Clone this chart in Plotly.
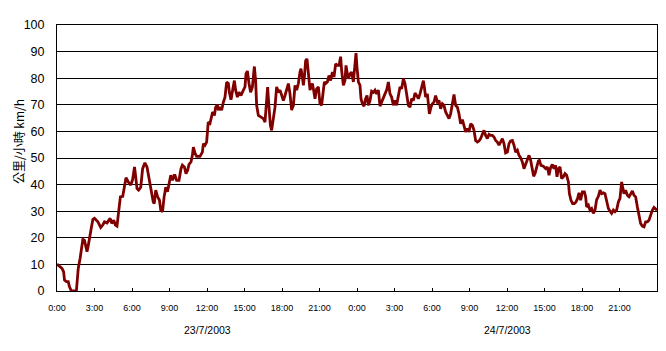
import plotly.graph_objects as go

# time in hours since 0:00 on 23/7/2003, speed in km/h
hours = [
    0.0, 0.2, 0.4, 0.53, 0.6, 0.75, 0.9, 1.0, 1.15, 1.55, 1.6, 1.7, 1.85, 1.95, 2.07, 2.2, 2.35, 2.4, 2.5, 2.65,
    2.75, 2.87, 3.0, 3.27, 3.5, 3.66, 3.8, 4.0, 4.25, 4.38, 4.54, 4.67, 4.8, 4.9, 5.0, 5.07, 5.26, 5.4, 5.52, 5.7,
    5.9, 6.05, 6.2, 6.27, 6.4, 6.53, 6.7, 6.85, 7.03, 7.2, 7.38, 7.57, 7.7, 7.78, 7.9, 8.05, 8.2, 8.3, 8.44, 8.57,
    8.7, 8.84, 9.0, 9.1, 9.24, 9.37,
    9.44, 9.57, 9.76, 9.92, 10.03, 10.19, 10.32, 10.45, 10.56, 10.72, 10.83, 10.91, 11.04, 11.17, 11.44, 11.63,
    11.71, 11.84, 11.97, 12.05, 12.1, 12.24, 12.37, 12.45, 12.59, 12.69, 12.83, 12.91, 13.04, 13.17, 13.31, 13.44,
    13.57, 13.71, 13.79, 13.92, 14.05, 14.19, 14.29, 14.43, 14.56, 14.72, 14.91, 15.04, 15.12, 15.23, 15.36, 15.49,
    15.63, 15.71, 15.79, 15.89, 15.97, 16.11, 16.32, 16.51, 16.64, 16.77, 16.85, 16.96, 17.07, 17.17, 17.31, 17.44,
    17.57, 17.71, 17.84, 17.97, 18.11, 18.24, 18.37, 18.51, 18.64, 18.77, 18.91, 19.04,
    19.17, 19.31, 19.44, 19.52, 19.63, 19.71, 19.79, 19.89, 20.0, 20.11, 20.24, 20.32, 20.43, 20.53, 20.64, 20.77,
    20.91, 21.04, 21.17, 21.31, 21.39, 21.49, 21.63, 21.76, 21.89, 22.03, 22.16, 22.29, 22.43, 22.56, 22.69, 22.77,
    22.91, 23.04, 23.12, 23.23, 23.31, 23.44, 23.57, 23.71, 23.84, 23.92, 24.0, 24.11, 24.24, 24.32, 24.43, 24.56,
    24.69, 24.8, 24.91, 25.04, 25.17, 25.31, 25.44, 25.57, 25.71, 25.84, 25.97, 26.11, 26.24, 26.37, 26.51, 26.64,
    26.77, 26.91, 27.04, 27.17, 27.31, 27.44, 27.57, 27.71, 27.84, 27.97, 28.11, 28.24, 28.37, 28.51,
    28.64, 28.77, 28.91, 29.04, 29.17, 29.31, 29.39, 29.49, 29.63, 29.71, 29.79, 29.92, 30.03, 30.16, 30.29, 30.43,
    30.56, 30.69, 30.83, 30.96, 31.09, 31.23, 31.36, 31.49, 31.63, 31.76, 31.89, 32.03, 32.16, 32.29, 32.43, 32.56,
    32.69, 32.83, 32.96, 33.09, 33.23, 33.36, 33.49, 33.63, 33.76, 33.89, 34.03, 34.16, 34.29, 34.43, 34.56, 34.69,
    34.83, 34.96, 35.09, 35.23, 35.36, 35.49, 35.63, 35.76, 35.89, 36.03, 36.16, 36.29, 36.43, 36.56, 36.69, 36.83,
    36.96, 37.09, 37.23, 37.36, 37.49, 37.63, 37.76, 37.89, 38.03, 38.13,
    38.24, 38.37, 38.51, 38.59, 38.72, 38.91, 39.09, 39.23, 39.36, 39.49, 39.63, 39.76, 39.89, 40.0, 40.11, 40.24,
    40.37, 40.51, 40.64, 40.77, 40.91, 40.99, 41.12, 41.25, 41.39, 41.52, 41.65, 41.76, 41.89, 42.03, 42.19, 42.29,
    42.37, 42.51, 42.64, 42.77, 42.91, 43.04, 43.17, 43.31, 43.44, 43.57, 43.71, 43.84, 43.97, 44.11, 44.24, 44.37,
    44.51, 44.64, 44.77, 44.91, 45.04, 45.17, 45.25, 45.36, 45.49, 45.63, 45.76, 45.89, 46.03, 46.16, 46.29, 46.43,
    46.56, 46.69, 46.83, 46.96, 47.09, 47.23, 47.36, 47.49, 47.63, 47.76, 47.89, 48.0,
]
speed = [
    10.1, 9.4, 8.5, 7.2, 4.1, 3.5, 3.5, 1.6, 0, 0, 2.9, 8.5, 12.3, 16.6, 19.4, 19, 15.4, 14.8, 17, 20.4,
    23.9, 26.9, 27.3, 26, 23.9, 24.8, 26, 25.6, 27.3, 25.4, 26.6, 24.8, 24.4, 28.5, 32.3, 35.4, 35.6, 40.4, 42.6, 41,
    39.8, 41.9, 46.6, 44, 38.5, 37.9, 39, 46, 48.2, 46.6, 41.6, 37.9, 33.5, 32.9, 37.9, 35.4, 34.1, 30.4, 29.8, 35.4,
    39, 37.3, 40.4, 43.5, 41.6, 43.5,
    43.5, 41.6, 41.6, 46, 47.3, 46.6, 44.1, 45.4, 47.6, 48.5, 51, 54.1, 51.8, 50.6, 50.6, 52.2,
    55.4, 54.8, 56, 60.4, 63.5, 63, 65.4, 67.3, 66, 69.1, 70, 68, 69.1, 68, 71, 72.9,
    78.5, 78, 74.7, 71.9, 75.5, 79.1, 75.5, 72.9, 74.7, 73.5, 75.5, 76.7, 81.6, 82.7, 78, 74.7,
    76.7, 81.6, 84.4, 79.1, 69.8, 66, 65.4, 64.8, 63.5, 74.1, 76.7, 69.1, 62.3, 60.4, 64.1, 69.1,
    76.7, 74.7, 75.5, 73.5, 71.6, 73.5, 76, 78, 74.1, 68, 69.8, 77.3,
    75.5, 78, 82.3, 83.6, 80.4, 77.3, 80.4, 86.6, 87.3, 80.4, 75.5, 76.7, 78, 75.5, 72.3, 76,
    76.7, 70.4, 69.8, 75.5, 78.6, 78, 78.6, 81, 79.1, 82.3, 80.4, 85.4, 84.8, 84.8, 88.1, 82.9,
    77.3, 79.1, 84.8, 81.6, 79.8, 81.6, 82.3, 78.6, 86.6, 89.4, 84.1, 78.6, 77.3, 72.3, 70.4, 69.5,
    72.3, 73.5, 69.8, 71.6, 75.1, 74.7, 75.5, 74.1, 75.5, 69.5, 71, 72.3, 74.1, 75.5, 78.6, 74.1,
    72.9, 69.8, 71.6, 69.8, 74.1, 76.7, 76, 79.8, 78, 74.1, 69.8, 69.1, 72.3, 71.6,
    74.4, 73.5, 72.3, 74.1, 76.6, 79.1, 76.6, 72.9, 74.1, 70.4, 66.6, 69.1, 70.4, 71, 73.5, 71,
    71.6, 68.5, 70.4, 69.8, 67.3, 66, 64.8, 66.6, 70.4, 73.9, 69.8, 69.1, 66.6, 62.9, 64.4, 62.3,
    59.8, 61, 59.8, 62.9, 62.3, 60.4, 56.6, 56, 56.4, 57.3, 59.1, 60.4, 58.5, 57.3, 58.9, 58.5,
    58.5, 57.9, 56.6, 56, 54.8, 56, 57.3, 55.4, 51.9, 52.2, 55.4, 56.4, 56.6, 54.8, 52.2, 52.9,
    51, 50.1, 48.5, 46, 47.9, 49.8, 51, 49.2, 46, 43.1,
    44.1, 46, 48.9, 49.1, 47.2, 46.9, 46, 46.6, 43.5, 46.4, 47.6, 46, 47.2, 42.9, 46, 46.6,
    42.3, 42.9, 44.1, 43.5, 41.1, 36.6, 34.1, 32.9, 32.9, 33.5, 34.8, 36.9, 34.1, 37.3, 37.3, 35.4,
    31.6, 32.3, 30.4, 31, 29.2, 30.4, 34.3, 35.6, 37.9, 36.6, 36.9, 36.6, 33.5, 31, 30.1, 29.2,
    30.4, 29.8, 30.4, 33.5, 34.8, 41, 39.1, 36.6, 37.9, 36, 35.4, 36.6, 37.6, 36, 35.4, 31.6,
    27.9, 25.4, 24.4, 24.1, 26, 26, 26.6, 28.5, 30.4, 31.4, 30.7, 30.4,
]

tick_hours = list(range(0, 48, 3))
tick_labels = ["0:00", "3:00", "6:00", "9:00", "12:00", "15:00", "18:00", "21:00",
               "0:00", "3:00", "6:00", "9:00", "12:00", "15:00", "18:00", "21:00"]
day_labels = ["23/7/2003", "24/7/2003"]
day_centers = [12, 36]
y_title = "公里/小時 km/h"

fig = go.Figure()
fig.add_trace(go.Scatter(
    x=hours, y=speed, mode="lines",
    line=dict(color="#800000", width=2.8),
    hoverinfo="skip", showlegend=False,
))

for lab, c in zip(day_labels, day_centers):
    fig.add_annotation(
        x=c, y=-0.146, xref="x", yref="paper", text=lab, showarrow=False,
        xanchor="center", yanchor="middle",
        font=dict(family="Liberation Sans, Arial, sans-serif", size=10.5, color="black"),
    )

fig.add_annotation(
    x=-0.065, y=0.56, xref="paper", yref="paper", text=y_title, showarrow=False,
    textangle=-90, xanchor="center", yanchor="middle",
    font=dict(family="Noto Sans CJK TC, sans-serif", size=12, color="black"),
)

fig.update_layout(
    width=666, height=351,
    margin=dict(l=57, r=8.5, t=24.5, b=60),
    paper_bgcolor="white", plot_bgcolor="white",
    xaxis=dict(
        range=[0, 48], tickmode="array", tickvals=tick_hours, ticktext=tick_labels,
        showgrid=False, zeroline=False, showline=True, linecolor="black", linewidth=1,
        mirror=True, ticks="inside", ticklen=3, tickcolor="black", tickwidth=1,
        ticklabelstandoff=8,
        tickfont=dict(family="Liberation Sans, Arial, sans-serif", size=9, color="black"),
    ),
    yaxis=dict(
        range=[0, 100], tickmode="linear", tick0=0, dtick=10,
        showgrid=True, gridcolor="black", gridwidth=1, zeroline=False,
        showline=True, linecolor="black", linewidth=1, mirror=True,
        ticks="", ticklabelstandoff=9,
        tickfont=dict(family="Liberation Sans, Arial, sans-serif", size=12.5, color="black"),
    ),
)

fig.write_html(
    "out.html",
    config={"displayModeBar": False},
    post_script="document.body.style.margin='0';document.body.style.overflow='hidden';",
)
